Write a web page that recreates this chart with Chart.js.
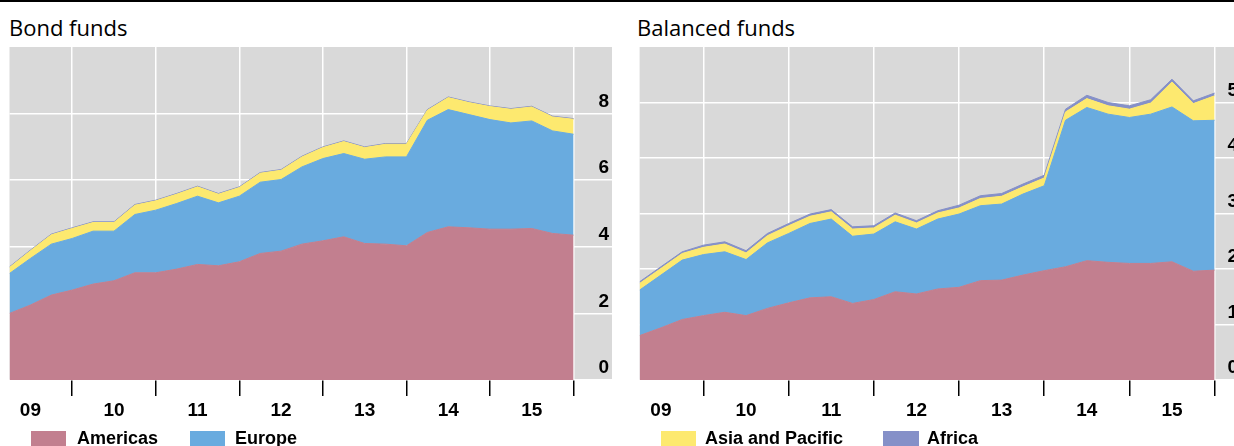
<!DOCTYPE html>
<html>
<head>
<meta charset="utf-8">
<script src="https://cdn.jsdelivr.net/npm/chart.js"></script>
<style>
html,body{margin:0;padding:0;background:#fff;overflow:hidden;width:1234px;height:446px;}
#wrap{position:relative;width:1234px;height:446px;overflow:hidden;}
.rule{position:absolute;left:0;top:0;width:1234px;height:2px;background:#000;}
.title{position:absolute;top:16px;font-family:'Open Sans',sans-serif;font-size:22px;line-height:22px;color:#000;white-space:nowrap;}
canvas{position:absolute;top:0;}
.sw{position:absolute;top:431px;height:17px;}
.lt{position:absolute;top:429px;font:bold 18px 'Liberation Sans',Arial,sans-serif;line-height:18px;color:#000;white-space:nowrap;}
</style>
</head>
<body>
<div id="wrap">
  <div class="rule"></div>
  <div class="title" style="left:9px">Bond funds</div>
  <div class="title" style="left:637px">Balanced funds</div>
  <canvas id="bond" width="612" height="446" style="left:0px"></canvas>
  <canvas id="bal" width="611" height="446" style="left:630px"></canvas>
  <div class="sw" style="left:31px;width:35px;background:#c27f8f"></div>
  <div class="lt" style="left:77px">Americas</div>
  <div class="sw" style="left:190px;width:35px;background:#69abdf"></div>
  <div class="lt" style="left:235px">Europe</div>
  <div class="sw" style="left:661px;width:35px;background:#fde96f"></div>
  <div class="lt" style="left:705px">Asia and Pacific</div>
  <div class="sw" style="left:883px;width:36px;background:#8590c8"></div>
  <div class="lt" style="left:927px">Africa</div>
</div>
<script>
// ---- data ----
const quarters = ['2009Q1','2009Q2','2009Q3','2009Q4','2010Q1','2010Q2','2010Q3','2010Q4',
  '2011Q1','2011Q2','2011Q3','2011Q4','2012Q1','2012Q2','2012Q3','2012Q4',
  '2013Q1','2013Q2','2013Q3','2013Q4','2014Q1','2014Q2','2014Q3','2014Q4',
  '2015Q1','2015Q2','2015Q3','2015Q4'];
const yearLabels = ['09','10','11','12','13','14','15'];
const bondTicks = [0,2,4,6,8];
const balancedTicks = [0,1,2,3,4,5];
const seriesNames = ['Americas','Europe','Asia and Pacific','Africa'];

const bondAmericas = [2.00,2.25,2.55,2.70,2.88,2.98,3.22,3.22,3.33,3.47,3.43,3.55,3.80,3.87,4.08,4.18,4.30,4.10,4.08,4.03,4.43,4.60,4.57,4.53,4.53,4.55,4.40,4.35];
const bondEurope   = [1.20,1.40,1.53,1.55,1.59,1.49,1.75,1.88,1.97,2.05,1.89,1.97,2.14,2.15,2.32,2.47,2.50,2.53,2.62,2.67,3.37,3.52,3.40,3.29,3.19,3.23,3.08,3.03];
const bondAsia     = [0.18,0.23,0.28,0.30,0.26,0.26,0.28,0.28,0.28,0.28,0.26,0.26,0.27,0.28,0.30,0.33,0.36,0.35,0.38,0.38,0.30,0.36,0.36,0.39,0.41,0.42,0.42,0.45];
const bondAfrica   = [0.02,0.02,0.02,0.02,0.02,0.02,0.02,0.02,0.02,0.02,0.02,0.02,0.02,0.02,0.02,0.02,0.02,0.02,0.02,0.02,0.02,0.02,0.02,0.02,0.02,0.02,0.02,0.02];

const balAmericas = [0.80,0.94,1.09,1.16,1.22,1.16,1.29,1.39,1.48,1.50,1.38,1.45,1.59,1.55,1.64,1.67,1.79,1.80,1.89,1.97,2.04,2.15,2.12,2.10,2.10,2.13,1.96,1.98];
const balEurope   = [0.82,0.95,1.07,1.10,1.09,1.01,1.18,1.25,1.34,1.40,1.21,1.18,1.26,1.17,1.26,1.32,1.35,1.37,1.46,1.53,2.64,2.76,2.67,2.63,2.69,2.79,2.71,2.70];
const balAsia     = [0.12,0.12,0.12,0.13,0.14,0.12,0.13,0.14,0.13,0.13,0.13,0.11,0.12,0.11,0.11,0.11,0.13,0.14,0.13,0.14,0.15,0.16,0.15,0.15,0.20,0.45,0.31,0.44];
const balAfrica   = [0.03,0.03,0.03,0.04,0.04,0.04,0.04,0.04,0.04,0.04,0.04,0.04,0.04,0.04,0.04,0.05,0.05,0.05,0.05,0.05,0.05,0.06,0.06,0.06,0.06,0.05,0.05,0.05];

const colors = ['#c27f8f','#69abdf','#fde96f','#8590c8'];

// ---- chart building ----
const xs = quarters.map(q => Number(q.slice(0,4)) + Number(q.slice(5)) / 4); // end of quarter
const firstYear = 2009;
const xTickValues = [];
yearLabels.forEach((l, i) => { xTickValues.push(firstYear + i + 0.5); xTickValues.push(firstYear + i + 1); });

const bgPlugin = {
  id: 'bg',
  beforeDraw(chart) {
    const {ctx, chartArea: a} = chart;
    ctx.save();
    ctx.fillStyle = '#d9d9d9';
    ctx.fillRect(a.left, a.top, a.right - a.left, a.bottom - a.top);
    ctx.restore();
  }
};

function makeDatasets(series) {
  return series.map((data, i) => ({
    label: seriesNames[i],
    data: xs.map((x, j) => ({x: x, y: data[j]})),
    backgroundColor: colors[i],
    borderColor: colors[i],
    borderWidth: 1,
    pointRadius: 0,
    tension: 0,
    fill: i === 0 ? 'origin' : '-1'
  }));
}

const tickFont = {family: "'Liberation Sans', Arial, sans-serif", size: 19, weight: 'bold'};

function makeChart(id, series, yTicks, yMax, xMax, padLeft) {
  return new Chart(document.getElementById(id), {
    type: 'line',
    data: {datasets: makeDatasets(series)},
    plugins: [bgPlugin],
    options: {
      responsive: false,
      animation: false,
      events: [],
      layout: {padding: {left: padLeft, top: 47, right: 0, bottom: 0}, autoPadding: false},
      plugins: {legend: {display: false}, tooltip: {enabled: false}},
      scales: {
        x: {
          type: 'linear',
          min: 2009.25,
          max: xMax,
          afterBuildTicks: s => { s.ticks = xTickValues.map(v => ({value: v})); },
          afterFit: s => { s.height = 66; },
          border: {display: false},
          grid: {
            color: c => Number.isInteger(c.tick && c.tick.value) ? '#ffffff' : 'rgba(0,0,0,0)',
            lineWidth: 1.5,
            drawTicks: true,
            tickLength: 16,
            tickWidth: 1.5,
            tickColor: c => Number.isInteger(c.tick && c.tick.value) ? '#000000' : 'rgba(0,0,0,0)'
          },
          ticks: {
            autoSkip: false,
            maxRotation: 0,
            padding: 3,
            color: '#000',
            font: tickFont,
            callback: v => Number.isInteger(v) ? '' : yearLabels[Math.floor(v) - firstYear]
          }
        },
        y: {
          position: 'right',
          stacked: true,
          min: 0,
          max: yMax,
          afterBuildTicks: s => { s.ticks = yTicks.map(v => ({value: v})); },
          afterFit: s => { s.width = 0; },
          border: {display: false},
          grid: {color: '#ffffff', lineWidth: 1.5, drawTicks: false},
          ticks: {
            mirror: true,
            padding: -3,
            labelOffset: -12,
            color: '#000',
            font: tickFont,
            callback: v => String(v)
          }
        }
      }
    }
  });
}

makeChart('bond', [bondAmericas, bondEurope, bondAsia, bondAfrica], bondTicks, 10, 2016.46, 9.5);
makeChart('bal', [balAmericas, balEurope, balAsia, balAfrica], balancedTicks, 6, 2016.31, 9.6);
</script>
</body>
</html>
